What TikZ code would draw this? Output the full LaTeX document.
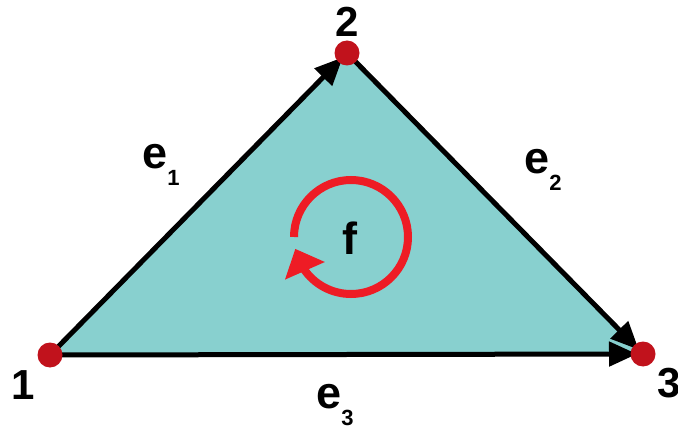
\documentclass[tikz,border=0pt]{standalone}
\usepackage{fontspec}
\setmainfont{Liberation Sans}
\usetikzlibrary{arrows.meta,bending}
\definecolor{ink}{HTML}{000000}
\definecolor{faceFill}{HTML}{88D0CF}
\definecolor{dotC}{HTML}{C1121C}
\definecolor{orientC}{HTML}{EE1C25}
\newcommand{\esub}[1]{e\raisebox{-17pt}{\fontsize{22}{22}\selectfont #1}}
\tikzset{>={Triangle[length=28pt,width=24pt]},
  edge/.style={->,draw=ink,line width=5pt,shorten >=6pt},
  vdot/.style={circle,fill=dotC,minimum size=25pt,inner sep=0pt},
  vlab/.style={font=\fontsize{42}{42}\selectfont\bfseries,text=ink,inner sep=0pt},
  elab/.style={font=\fontsize{45}{45}\selectfont\bfseries,text=ink,inner sep=0pt},
  orient/.style={draw=orientC,line width=8pt,-{Triangle[length=24pt,width=42pt]}}}
\begin{document}
\begin{tikzpicture}[x=1pt,y=1pt]
\useasboundingbox (0,0) rectangle (678,429);
\coordinate (p1) at (50,74);
\coordinate (p2) at (347,376);
\coordinate (p3) at (643,75);
\fill[faceFill] (p1) -- (p2) -- (p3) -- cycle;
\draw[edge] (p1) -- (p2);
\draw[edge] (p2) -- (p3);
\draw[edge] (p1) -- (p3);
\node[vdot] (v1) at (p1) {};
\node[vdot] (v2) at (p2) {};
\node[vdot] (v3) at (p3) {};
\node[vlab] (l1) at (23,44) {1};
\node[vlab] (l2) at (347,407) {2};
\node[vlab] (l3) at (669,46) {3};
\node[elab] (le1) at (161,264) {\esub{1}};
\node[elab] (le2) at (543,259) {\esub{2}};
\node[elab] (le3) at (335,24) {\esub{3}};
% orientation of the face
\coordinate (fc) at (351,192);
\draw[orient] (fc) ++(180:57) arc[start angle=180,end angle=-168,radius=57];
\node[elab] (lf) at (350,191) {f};
\end{tikzpicture}
\end{document}
